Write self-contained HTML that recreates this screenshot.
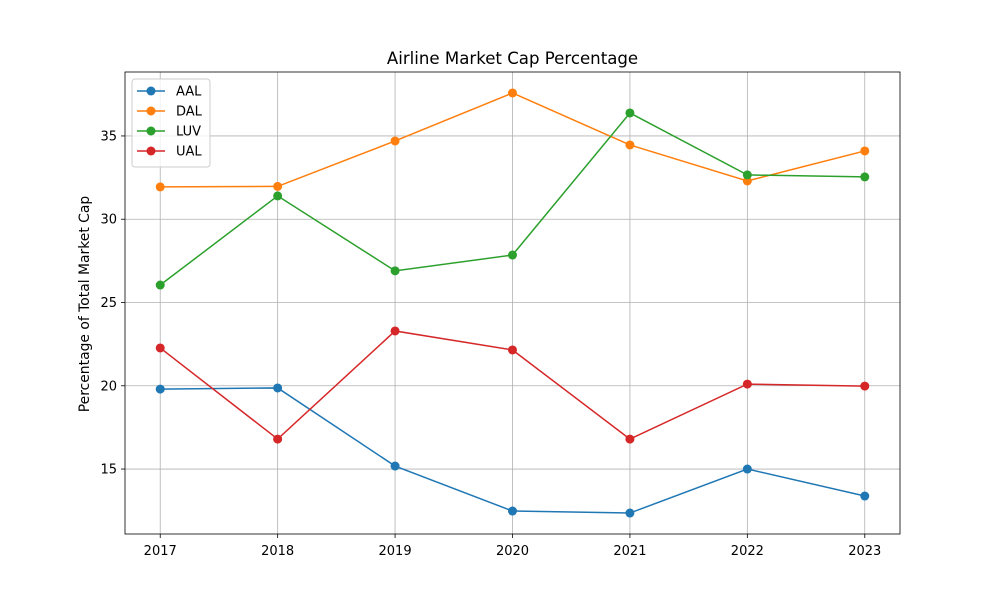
<!DOCTYPE html>
<html><head><meta charset="utf-8"><style>
body{margin:0;background:#fff;font-family:"Liberation Sans","DejaVu Sans",sans-serif;}
svg text{font-family:"DejaVu Sans","Liberation Sans",sans-serif;}
</style></head><body>
<svg id="chart" width="1000" height="600"></svg>
<script>
const years=[2017,2018,2019,2020,2021,2022,2023];
const aal=[19.8,19.87,15.18,12.48,12.36,15.0,13.38];
const dal=[31.94,31.97,34.7,37.58,34.46,32.3,34.1];
const luv=[26.05,31.4,26.9,27.85,36.38,32.66,32.54];
const ual=[22.27,16.8,23.29,22.15,16.8,20.1,19.98];
const yTicks=[15,20,25,30,35];
const seriesNames=["AAL","DAL","LUV","UAL"];
const seriesColors=["#1f77b4","#ff7f0e","#2ca02c","#d62728"];
const seriesData=[aal,dal,luv,ual];

const L=125,R=900,T=72,B=534;
const xMin=2016.7,xMax=2023.3,yMin=11.1,yMax=38.84;
const sx=v=>L+(v-xMin)/(xMax-xMin)*(R-L);
const sy=v=>B-(v-yMin)/(yMax-yMin)*(B-T);
const svg=document.getElementById('chart');
const NS='http://www.w3.org/2000/svg';
function mk(tag,attrs,parent){const e=document.createElementNS(NS,tag);for(const k in attrs)e.setAttribute(k,attrs[k]);(parent||svg).appendChild(e);return e;}

const grid=mk('g',{});


years.forEach(y=>{mk('line',{x1:sx(y),x2:sx(y),y1:T,y2:B,stroke:'#b0b0b0','stroke-width':0.8},grid);
 const t=mk('text',{x:sx(y),y:B+21,'text-anchor':'middle','font-size':13,fill:'#000'});t.textContent=y;
 
 mk('line',{x1:sx(y),x2:sx(y),y1:B,y2:B+4,stroke:'#000','stroke-width':0.8});});
yTicks.forEach(v=>{mk('line',{x1:L,x2:R,y1:sy(v),y2:sy(v),stroke:'#b0b0b0','stroke-width':0.8},grid);
 const t=mk('text',{x:L-8,y:sy(v)+4.5,'text-anchor':'end','font-size':13,fill:'#000'});t.textContent=v;
 
 mk('line',{x1:L-4,x2:L,y1:sy(v),y2:sy(v),stroke:'#000','stroke-width':0.8});});

seriesData.forEach((d,i)=>{
 const g=mk('g',{});
 
 
 mk('polyline',{points:d.map((v,j)=>sx(years[j])+','+sy(v)).join(' '),fill:'none',stroke:seriesColors[i],'stroke-width':1.5},g);
 d.forEach((v,j)=>{const c=mk('circle',{cx:sx(years[j]),cy:sy(v),r:4.5,fill:seriesColors[i]},g);
  });
});

const frame=mk('rect',{x:L,y:T,width:R-L,height:B-T,fill:'none',stroke:'#000','stroke-width':0.8});


const title=mk('text',{x:(L+R)/2,y:64,'text-anchor':'middle','font-size':16.6});title.textContent='Airline Market Cap Percentage';

const yl=mk('text',{x:89,y:(T+B)/2+1,'text-anchor':'middle','font-size':13.9,transform:'rotate(-90 89 '+((T+B)/2+1)+')'});yl.textContent='Percentage of Total Market Cap';


const lg=mk('g',{});

mk('rect',{x:132,y:79,width:78,height:88,rx:3,fill:'#fff','fill-opacity':0.8,stroke:'#ccc'},lg);
seriesNames.forEach((n,i)=>{const y=91+i*20;
 const e=mk('g',{},lg);
 mk('line',{x1:137,x2:165,y1:y,y2:y,stroke:seriesColors[i],'stroke-width':1.5},e);
 mk('circle',{cx:151,cy:y,r:4.5,fill:seriesColors[i]},e);
 const t=mk('text',{x:176,y:y+4.5,'font-size':13},e);t.textContent=n;});
</script>
</body></html>
